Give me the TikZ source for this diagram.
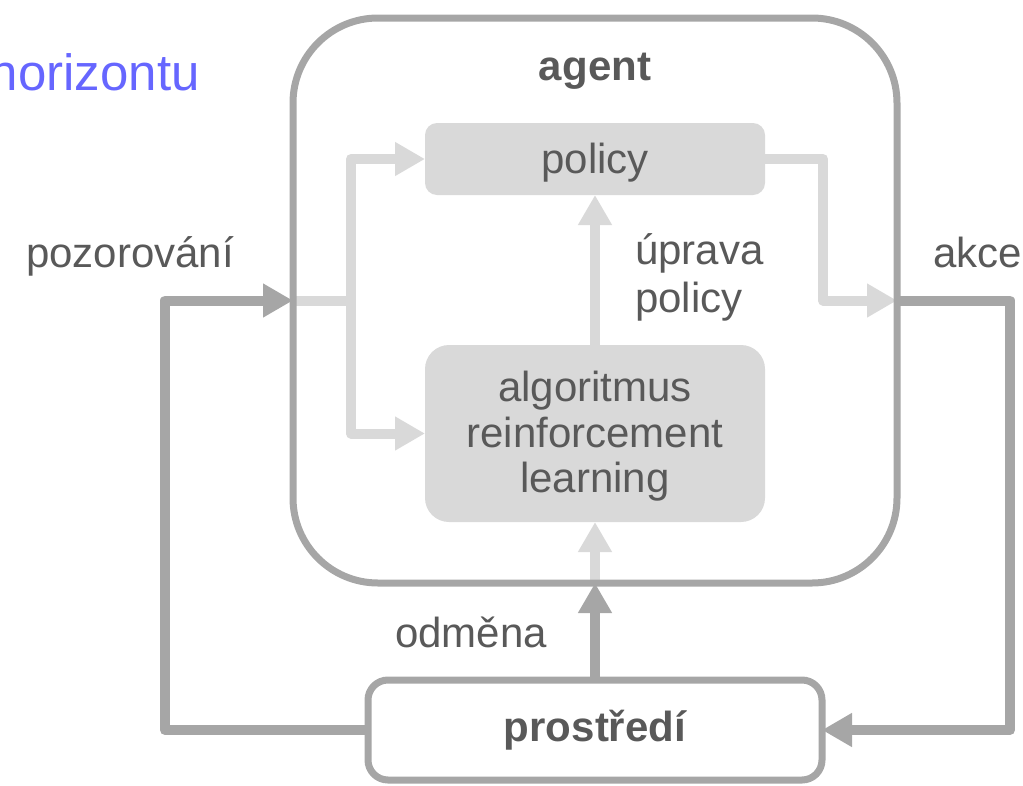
\documentclass[tikz,border=0pt]{standalone}
\usepackage{fontspec}
\setmainfont{Liberation Sans}
\usetikzlibrary{arrows.meta,backgrounds}
\definecolor{edgegray}{HTML}{A6A6A6}
\definecolor{fillgray}{HTML}{D9D9D9}
\definecolor{txtgray}{HTML}{595959}
\definecolor{titleblue}{HTML}{6666FF}

\begin{document}
\begin{tikzpicture}[x=1pt,y=-1pt,
  every node/.style={font=\fontsize{42}{45.5}\selectfont, text=txtgray},
  frame/.style={draw=edgegray, line width=7pt, outer sep=0pt, inner sep=0pt},
  innerbox/.style={fill=fillgray, outer sep=0pt, inner sep=0pt,
    minimum width=340pt, align=center},
  lightline/.style={draw=fillgray, line width=10pt, line join=round},
  darkline/.style={draw=edgegray, line width=10pt, line join=round},
  tip/.style={-{Triangle[length=30pt,width=32pt]}},
  txtlabel/.style={inner sep=0pt, anchor=base west}
]
\useasboundingbox (0,0) rectangle (1023,785);
\clip (0,0) rectangle (1023,785);

% heading fragment at the top left
\node[txtlabel, text=titleblue, font=\fontsize{51}{55}\selectfont]
  (title) at (-10.4,90) {horizontu};

% agent with its two inner blocks
\node[frame, minimum width=604pt, minimum height=565pt, rounded corners=85pt]
  (agent) at (595,300.5) {};
\node[inner sep=0pt, anchor=base, font=\fontsize{42}{45.5}\selectfont\bfseries]
  (agenttitle) at (595,80) {agent};
\node[innerbox, minimum height=72pt, rounded corners=12pt, text depth=2pt]
  (policy) at (595,159) {policy};
\node[innerbox, minimum height=177pt, rounded corners=24pt, text depth=3pt]
  (algo) at (595,433.5) {algoritmus\\reinforcement\\learning};

% environment
\node[frame, fill=white, minimum width=454pt, minimum height=100pt,
  rounded corners=20pt, font=\fontsize{42}{45.5}\selectfont\bfseries]
  (env) at (595,730) {prostředí};

% internal signal flow (under the agent frame)
\coordinate (fork) at (351,300.5);
\coordinate (outbend) at (823,159);
\begin{pgfonlayer}{background}
  \draw[lightline] (agent.west) -- (fork);
  \draw[lightline, tip] (fork) |- (policy.west);
  \draw[lightline, tip] (fork) |- (algo.west);
  \draw[lightline, tip] (policy.east) -- (outbend) |- (agent.east);
  \draw[lightline, tip] (algo.north) -- (policy.south);
  \draw[lightline, tip] (agent.south) -- (algo.south);
\end{pgfonlayer}

% loop between agent and environment
\coordinate (leftbend) at (165,730);
\coordinate (rightbend) at (1010,300.5);
\draw[darkline, tip] (env.west) -- (leftbend) |- (agent.west);
\draw[darkline, tip] (agent.east) -- (rightbend) |- (env.east);
\draw[darkline, tip] (env.north) -- (agent.south);

% signal names
\node[txtlabel] (obs) at (26,267) {pozorování};
\node[txtlabel] (act) at (933,267) {akce};
\node[txtlabel] (rew) at (395,647) {odměna};
\node[inner sep=0pt, anchor=base west, align=left,
  font=\fontsize{42}{48}\selectfont] (upd) at (635,312) {úprava\\policy};
\end{tikzpicture}
\end{document}
